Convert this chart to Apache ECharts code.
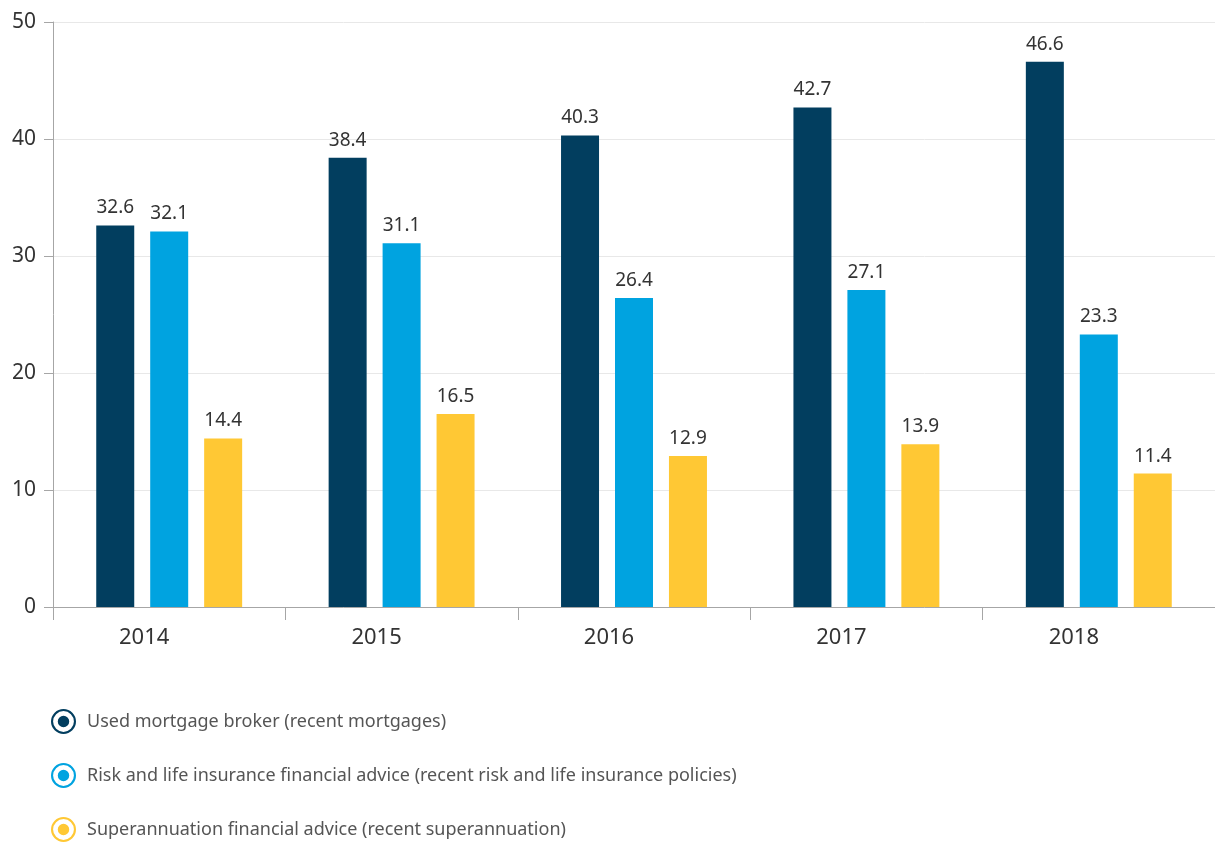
<!DOCTYPE html>
<html>
<head>
<meta charset="utf-8">
<script src="https://cdn.jsdelivr.net/npm/echarts@6/dist/echarts.min.js"></script>
<style>
  html, body { margin: 0; padding: 0; background: #fff; }
  #chart { width: 1215px; height: 843px; }
</style>
</head>
<body>
<div id="chart"></div>
<script>
const years = ['2014', '2015', '2016', '2017', '2018'];
const mortgageBroker = [32.6, 38.4, 40.3, 42.7, 46.6];
const riskLifeAdvice = [32.1, 31.1, 26.4, 27.1, 23.3];
const superAdvice = [14.4, 16.5, 12.9, 13.9, 11.4];
const seriesNames = [
    'Used mortgage broker (recent mortgages)',
    'Risk and life insurance financial advice (recent risk and life insurance policies)',
    'Superannuation financial advice (recent superannuation)'
];

// anillo + punto para la leyenda
const ringIcon = 'path://M12 0A12 12 0 1 1 12 24A12 12 0 1 1 12 0Z' +
    'M12 2A10 10 0 1 0 12 22A10 10 0 1 0 12 2Z' +
    'M12 6.5A5.5 5.5 0 1 1 12 17.5A5.5 5.5 0 1 1 12 6.5Z';

const fontFamily = '"Noto Sans", sans-serif';
const chart = echarts.init(document.getElementById('chart'));

function makeSeries(name, data, color) {
    return {
        name: name,
        type: 'bar',
        data: data,
        barWidth: 38,
        barGap: '42%',
        itemStyle: { color: color },
        label: {
            show: true,
            position: 'top',
            distance: 8,
            color: '#333',
            fontSize: 19,
            fontFamily: fontFamily,
            formatter: function (p) { return p.value.toFixed(1); }
        }
    };
}

const option = {
    animation: false,
    grid: { left: 53, right: -3, top: 22, height: 585 },
    legend: {
        orient: 'vertical',
        left: 51,
        top: 709,
        padding: 0,
        itemWidth: 25,
        itemHeight: 25,
        itemGap: 29,
        icon: ringIcon,
        textStyle: { color: '#555', fontSize: 18, fontFamily: fontFamily, padding: [0, 0, 0, 6] },
        data: seriesNames
    },
    xAxis: {
        type: 'category',
        data: years,
        axisLine: { lineStyle: { color: '#a6a6a6', width: 1 } },
        axisTick: { show: true, length: 13, lineStyle: { color: '#a6a6a6' } },
        axisLabel: {
            color: '#333', fontSize: 22, fontFamily: fontFamily, margin: 20,
            padding: [0, 50, 0, 0]
        }
    },
    yAxis: {
        type: 'value',
        min: 0,
        max: 50,
        interval: 10,
        axisLine: { show: true, lineStyle: { color: '#a6a6a6' } },
        axisTick: { show: true, length: 9, lineStyle: { color: '#a6a6a6' } },
        splitLine: { lineStyle: { color: '#e8e8e8' } },
        axisLabel: { color: '#333', fontSize: 21, fontFamily: fontFamily, margin: 17 }
    },
    series: [
        makeSeries(seriesNames[0], mortgageBroker, '#023e5f'),
        makeSeries(seriesNames[1], riskLifeAdvice, '#00a3e0'),
        makeSeries(seriesNames[2], superAdvice, '#ffc834')
    ]
};

chart.setOption(option);
</script>
</body>
</html>
